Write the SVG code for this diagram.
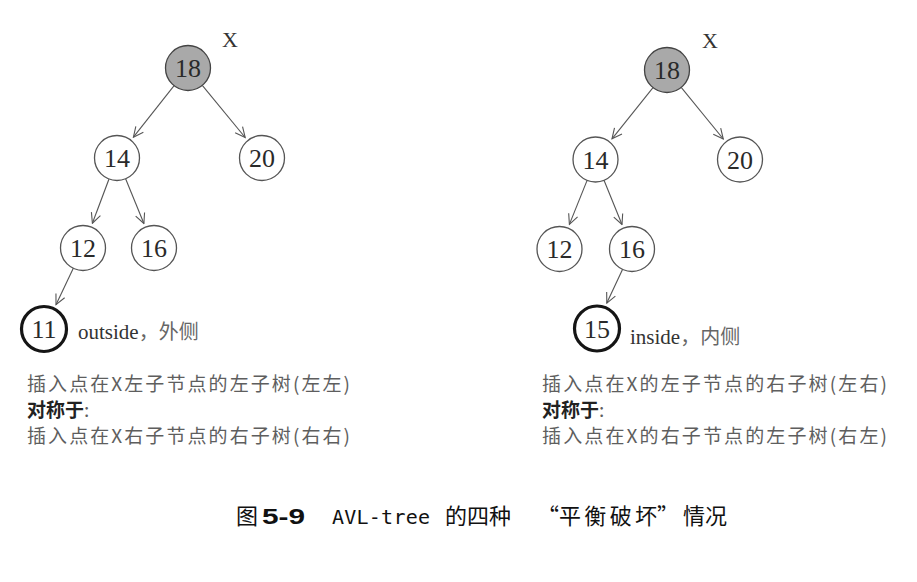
<svg xmlns="http://www.w3.org/2000/svg" width="917" height="582" viewBox="0 0 917 582">
<style>
.bg{fill:#ffffff}
.node circle{fill:#ffffff;stroke:#555555;stroke-width:1.3}
.node.root circle{fill:#a9a9a9;stroke:#444444}
.node.ins circle{stroke:#151515;stroke-width:3.2}
.node text{font-family:"Liberation Serif","Times New Roman",serif;font-size:26px;fill:#2a2a2a;text-anchor:middle}
.edges line{stroke:#555555;stroke-width:1.1;marker-end:url(#arr)}
.xl{font-family:"Liberation Serif",serif;font-size:22px;fill:#333333}
.ser{font-family:"Liberation Serif",serif;font-size:21px;fill:#333333}
.cjk{font-family:"Noto Sans CJK SC","Noto Sans",sans-serif;fill:#666666}
.desc{font-family:"Noto Sans CJK SC","Noto Sans",sans-serif;font-size:19px;fill:#5e5e5e}
.descb{font-family:"Noto Sans CJK SC","Noto Sans",sans-serif;font-size:19px;font-weight:bold;fill:#222222}
.cap{font-family:"Noto Sans CJK SC",sans-serif;font-size:22px;fill:#111111}
.capb{font-family:"Liberation Sans",Arial,sans-serif;font-size:22px;font-weight:bold;fill:#111111}
.capm{font-family:"DejaVu Sans Mono","Liberation Mono",monospace;font-size:20px;fill:#111111}
</style>
<defs>
<marker id="arr" viewBox="0 0 12 12" refX="11" refY="6" markerWidth="12" markerHeight="12" markerUnits="userSpaceOnUse" orient="auto">
<path d="M1,1.2 L11,6 L1,10.8" fill="none" stroke="#555555" stroke-width="1.1"/>
</marker>
</defs>
<rect class="bg" x="0" y="0" width="917" height="582"/>

<g id="edges" class="edges">
<line x1="174.1" y1="85.7" x2="133.4" y2="137.2"/>
<line x1="202.3" y1="85.4" x2="245.2" y2="137.5"/>
<line x1="109.0" y1="179.0" x2="92.4" y2="223.2"/>
<line x1="125.6" y1="178.8" x2="143.9" y2="223.5"/>
<line x1="73.3" y1="268.3" x2="56.0" y2="304.7"/>
<line x1="653.0" y1="87.6" x2="612.0" y2="138.8"/>
<line x1="681.2" y1="87.4" x2="723.3" y2="139.0"/>
<line x1="587.1" y1="180.4" x2="569.4" y2="224.4"/>
<line x1="604.0" y1="180.3" x2="622.0" y2="224.5"/>
<line x1="622.5" y1="269.4" x2="606.8" y2="303.1"/>
</g>

<g id="L18" class="node root"><circle cx="188" cy="68" r="22.5"/><text x="188" y="77">18</text></g>
<g id="L14" class="node"><circle cx="117" cy="158" r="22.5"/><text x="117" y="167">14</text></g>
<g id="L20" class="node"><circle cx="262" cy="158" r="22.5"/><text x="262" y="167">20</text></g>
<g id="L12" class="node"><circle cx="83" cy="248" r="22.5"/><text x="83" y="257">12</text></g>
<g id="L16" class="node"><circle cx="154" cy="248" r="22.5"/><text x="154" y="257">16</text></g>
<g id="L11" class="node ins"><circle cx="44" cy="329" r="22.5"/><text x="44" y="338">11</text></g>

<g id="R18" class="node root"><circle cx="667" cy="70" r="22.5"/><text x="667" y="79">18</text></g>
<g id="R14" class="node"><circle cx="595.5" cy="159.5" r="22.5"/><text x="595.5" y="168.5">14</text></g>
<g id="R20" class="node"><circle cx="740" cy="159.5" r="22.5"/><text x="740" y="168.5">20</text></g>
<g id="R12" class="node"><circle cx="559.5" cy="249" r="22.5"/><text x="559.5" y="258">12</text></g>
<g id="R16" class="node"><circle cx="632" cy="249" r="22.5"/><text x="632" y="258">16</text></g>
<g id="R15" class="node ins"><circle cx="597" cy="328.5" r="22.5"/><text x="597" y="337.5">15</text></g>

<text class="xl" x="222" y="47">X</text>
<text class="xl" x="702" y="48">X</text>

<text x="78" y="339"><tspan class="ser">outside</tspan><tspan class="cjk" font-size="20">，外侧</tspan></text>
<text x="630" y="344"><tspan class="ser">inside</tspan><tspan class="cjk" font-size="20">，内侧</tspan></text>

<text class="desc" x="27" y="391" textLength="323" lengthAdjust="spacing">插入点在X左子节点的左子树(左左)</text>
<text class="descb" x="27" y="417">对称于<tspan class="desc" font-weight="normal">:</tspan></text>
<text class="desc" x="27" y="443" textLength="323" lengthAdjust="spacing">插入点在X右子节点的右子树(右右)</text>

<text class="desc" x="542" y="391" textLength="345" lengthAdjust="spacing">插入点在X的左子节点的右子树(左右)</text>
<text class="descb" x="542" y="417">对称于<tspan class="desc" font-weight="normal">:</tspan></text>
<text class="desc" x="542" y="443" textLength="345" lengthAdjust="spacing">插入点在X的右子节点的左子树(右左)</text>

<text class="cap" x="236" y="524">图</text>
<text class="capb" x="262" y="524" textLength="43" lengthAdjust="spacingAndGlyphs">5-9</text>
<text class="capm" x="332" y="524" textLength="98" lengthAdjust="spacing">AVL-tree</text>
<text class="cap" x="445" y="524">的四种</text>
<text class="cap" x="537" y="524">“</text>
<text class="cap" x="559" y="524" textLength="98" lengthAdjust="spacing">平衡破坏</text>
<text class="cap" x="657" y="524">”</text>
<text class="cap" x="683" y="524">情况</text>
</svg>
